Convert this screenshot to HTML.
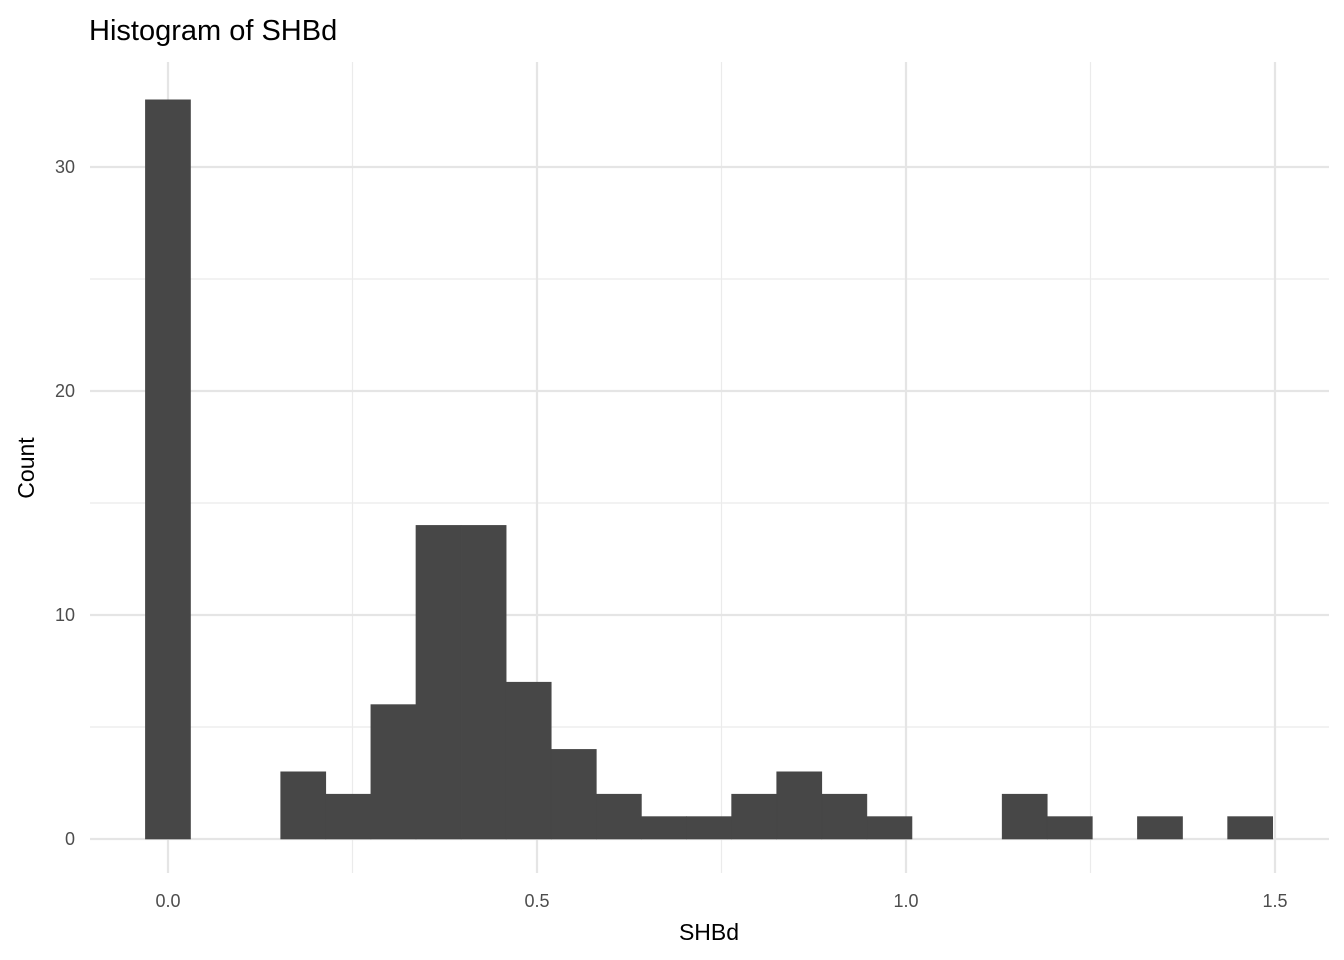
<!DOCTYPE html>
<html><head><meta charset="utf-8"><style>
body{margin:0;background:#fff;}
svg{display:block;font-family:"Liberation Sans",Arial,sans-serif;}
</style></head><body>
<svg id="chart" width="1344" height="960">
<text x="89" y="40" font-size="29" fill="#000">Histogram of SHBd</text>
<g id="grid"></g>
<g id="bars"></g>
<g id="ticks"></g>
<text x="709" y="940" font-size="23" text-anchor="middle" fill="#000">SHBd</text>
<text transform="translate(34,468) rotate(-90)" font-size="23" text-anchor="middle" fill="#000">Count</text>
</svg>
<script>
const binStart = -0.0306;
const binWidth = 0.0611;
const counts = [33,0,0,3,2,6,14,14,7,4,2,1,1,2,3,2,1,0,0,2,1,0,1,0,1];
const xTicks = [0,0.5,1,1.5];
const xTickLabels = ["0.0","0.5","1.0","1.5"];
const xMinor = [0.25,0.75,1.25];
const yTicks = [0,10,20,30];
const yMinor = [5,15,25];
const X = v => 168 + v*738;
const Y = v => 839 - v*22.4;
const ns = "http://www.w3.org/2000/svg";
const L = 90, R = 1329, T = 62, B = 873;
function mk(tag, attrs, parent){const e=document.createElementNS(ns,tag);for(const k in attrs)e.setAttribute(k,attrs[k]);parent.appendChild(e);return e;}
const grid=document.getElementById('grid'), bars=document.getElementById('bars'), ticks=document.getElementById('ticks');
xMinor.forEach(v=>{const l=mk('line',{x1:X(v),x2:X(v),y1:T,y2:B,stroke:'#ebebeb','stroke-width':1.2},grid);

});
yMinor.forEach(v=>{const l=mk('line',{x1:L,x2:R,y1:Y(v),y2:Y(v),stroke:'#ebebeb','stroke-width':1.2},grid);

});
xTicks.forEach((v,i)=>{const l=mk('line',{x1:X(v),x2:X(v),y1:T,y2:B,stroke:'#e5e5e5','stroke-width':2.2},grid);


const t=mk('text',{x:X(v),y:907,'font-size':18,'text-anchor':'middle',fill:'#4d4d4d'},ticks);t.textContent=xTickLabels[i];

});
yTicks.forEach(v=>{const l=mk('line',{x1:L,x2:R,y1:Y(v),y2:Y(v),stroke:'#e5e5e5','stroke-width':2.2},grid);


const t=mk('text',{x:75,y:Y(v)+6,'font-size':18,'text-anchor':'end',fill:'#4d4d4d'},ticks);t.textContent=String(v);

});
counts.forEach((c,i)=>{if(!c)return;const x0=X(binStart+i*binWidth),x1=X(binStart+(i+1)*binWidth);
const r=mk('rect',{x:x0,y:Y(c),width:x1-x0,height:Y(0)-Y(c),fill:'#474747',stroke:'#474747','stroke-width':0.6},bars);

});
</script>
</body></html>
